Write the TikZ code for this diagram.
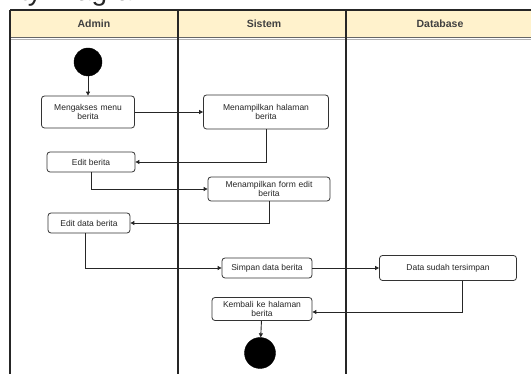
\documentclass[tikz,border=0pt]{standalone}
\usepackage{fontspec}
\setmainfont{Liberation Sans}
\usetikzlibrary{arrows.meta}

\begin{document}
\begin{tikzpicture}[x=1pt,y=-1pt,
  act/.style={draw=black!80, line width=0.8pt, rounded corners=3pt, fill=white,
    font=\fontsize{8.5}{9.5}\selectfont, align=center, inner sep=0.5pt, text=black!85},
  flow/.style={draw=black!85, line width=0.9pt, -{Triangle[length=4pt,width=4pt]}},
  lane/.style={draw=black!85, line width=1.2pt},
  dot/.style={circle, fill=black, draw=black, inner sep=0pt},
  lanehead/.style={font=\bfseries\fontsize{10.5}{12}\selectfont, text=black!75}]

\useasboundingbox (0,0) rectangle (531,374);

% title, running off the top edge
\node[anchor=base west, font=\fontsize{28}{32}\selectfont, text=black!85, inner sep=0pt]
  (title) at (-47,0.5) {Activity Diagram};

% swimlane header band and lane borders
\fill[fill={rgb,255:red,255;green,242;blue,204}] (10,10) rectangle (540,37);
\draw[lane, line width=1.4pt] (10,10) -- (540,10);
\draw[draw=black!60, line width=0.8pt] (10,37) -- (540,37);
\draw[draw=black!30, line width=0.6pt] (10,39) -- (540,39);
\draw[lane] (10,10) -- (10,380);
\draw[lane] (178,10) -- (178,380);
\draw[lane] (346,10) -- (346,380);

\node[lanehead] (hAdmin) at (94,23.5) {Admin};
\node[lanehead] (hSistem) at (264,23.5) {Sistem};
\node[lanehead] (hDb) at (440,23.5) {Database};

% activities
\node[dot, minimum size=28pt] (start) at (88,62) {};
\node[act, minimum width=93pt, minimum height=32pt, text width=90pt] (b1) at (88,112) {Mengakses menu\\berita};
\node[act, minimum width=125pt, minimum height=34pt, text width=122pt] (b2) at (266,112) {Menampilkan halaman\\berita};
\node[act, minimum width=88pt, minimum height=20pt] (b3) at (91,162) {Edit berita};
\node[act, minimum width=122pt, minimum height=24pt, text width=119pt] (b4) at (269,189) {Menampilkan form edit\\berita};
\node[act, minimum width=82pt, minimum height=20pt] (b5) at (89,223) {Edit data berita};
\node[act, minimum width=90pt, minimum height=20pt] (b6) at (267,268) {Simpan data berita};
\node[act, minimum width=137pt, minimum height=25pt] (b7) at (448,268) {Data sudah tersimpan};
\node[act, minimum width=100pt, minimum height=23pt, text width=97pt] (b8) at (262,309) {Kembali ke halaman\\berita};
\node[dot, minimum size=31pt] (stop) at (260,353) {};

% control flow
\draw[flow] (start) -- (b1);
\draw[flow] (b1) -- (b2);
\draw[flow] (b2.south) |- (b3.east);
\draw[flow] (b3.south) |- (b4.west);
\draw[flow] (b4.south) |- (b5.east);
\draw[flow] ([xshift=-4pt]b5.south) |- (b6.west);
\draw[flow] (b6) -- (b7);
\draw[flow] ([xshift=14pt]b7.south) |- ([yshift=-3pt]b8.east);
\draw[flow] (b8) -- (stop);
\end{tikzpicture}
\end{document}
